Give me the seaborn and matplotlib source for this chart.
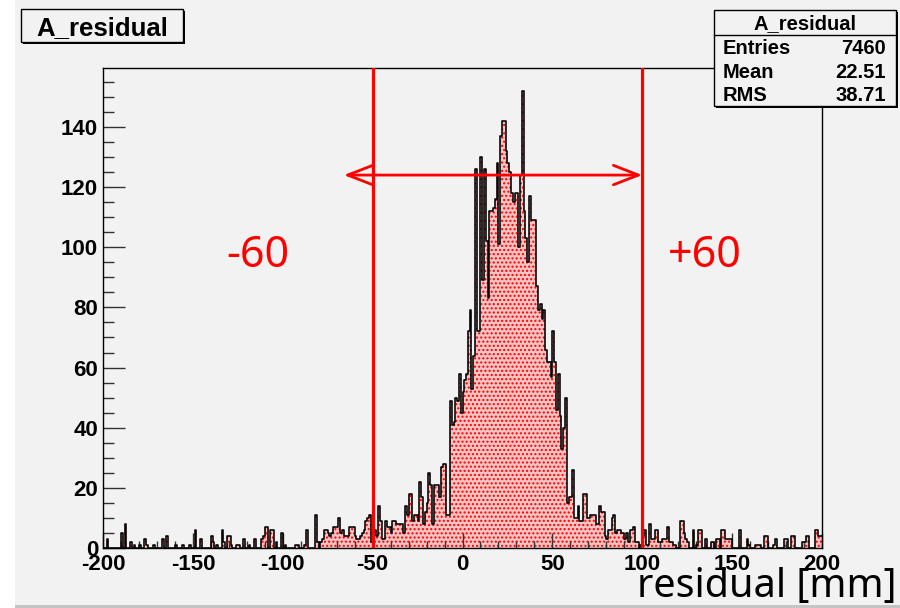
import matplotlib
matplotlib.use("Agg")
import matplotlib.pyplot as plt
import matplotlib.patches as mpatches
import numpy as np
import pandas as pd
import seaborn as sns
from matplotlib.ticker import MultipleLocator

# residual histogram, 1 mm bins from -200 to 200 mm
x_min, x_max, bin_width = -200, 200, 1

counts_left_tail = [  # -200 .. -51
    0, 0, 3, 0, 0, 0, 0, 0, 0, 0,
    5, 0, 8, 0, 0, 2, 0, 1, 0, 0,
    1, 0, 0, 3, 1, 0, 0, 0, 1, 0,
    0, 0, 0, 3, 0, 4, 0, 0, 0, 0,
    1, 0, 0, 0, 1, 0, 0, 0, 1, 0,
    0, 6, 0, 0, 3, 0, 0, 0, 0, 0,
    4, 2, 0, 1, 0, 0, 6, 2, 0, 4,
    4, 1, 0, 0, 1, 1, 0, 0, 3, 0,
    0, 1, 0, 0, 3, 0, 0, 0, 3, 4,
    7, 7, 0, 6, 6, 0, 2, 0, 0, 5,
    0, 1, 0, 0, 0, 0, 0, 1, 1, 0,
    0, 0, 1, 6, 0, 0, 0, 0, 11, 2,
    0, 2, 3, 6, 6, 5, 4, 5, 7, 7,
    7, 10, 5, 6, 4, 4, 4, 7, 7, 7,
    4, 3, 3, 4, 5, 6, 9, 10, 11, 2,
]
counts_core = [  # -50 .. 59
    1, 6, 4, 14, 9, 3, 3, 9, 7, 7,
    5, 9, 9, 8, 8, 8, 8, 5, 14, 11,
    18, 18, 9, 11, 11, 9, 22, 17, 8, 12,
    15, 25, 21, 8, 21, 21, 21, 17, 27, 28,
    28, 11, 11, 49, 41, 42, 50, 49, 58, 45,
    52, 56, 58, 72, 79, 53, 64, 126, 72, 72,
    130, 89, 126, 102, 83, 112, 112, 113, 116, 128,
    101, 137, 142, 142, 132, 128, 125, 118, 115, 118,
    118, 100, 124, 152, 112, 103, 95, 117, 109, 109,
    109, 87, 79, 81, 76, 79, 66, 62, 62, 57,
    72, 62, 46, 58, 44, 33, 40, 50, 15, 17,
]
counts_right_tail = [  # 60 .. 199
    17, 26, 10, 10, 14, 9, 9, 18, 18, 10,
    10, 11, 11, 11, 8, 8, 14, 12, 12, 4,
    3, 6, 6, 10, 11, 5, 6, 6, 5, 5,
    3, 5, 2, 6, 6, 7, 2, 2, 0, 1,
    4, 6, 1, 1, 8, 3, 3, 6, 6, 2,
    2, 3, 3, 3, 7, 2, 2, 1, 1, 0,
    0, 9, 9, 5, 3, 2, 0, 0, 6, 0,
    1, 6, 6, 0, 0, 3, 0, 0, 2, 2,
    0, 3, 3, 0, 6, 6, 3, 3, 3, 3,
    0, 0, 0, 0, 6, 0, 0, 0, 3, 1,
    0, 0, 0, 1, 1, 1, 0, 0, 4, 4,
    0, 0, 0, 1, 3, 0, 0, 0, 0, 3,
    3, 0, 0, 4, 4, 0, 0, 0, 0, 2,
    2, 4, 4, 0, 0, 0, 6, 6, 4, 4,
]

hist_name = "A_residual"
stat_labels = ["Entries", "Mean", "RMS"]
stat_values = ["7460", "22.51", "38.71"]

cut_lines = [-50, 100]
arrow_span = (-66, 100)
arrow_level = 124
cut_labels = ["-60", "+60"]
cut_label_pos = [(-114, 97), (135, 97)]
x_label = "residual [mm]"

counts = np.array(counts_left_tail + counts_core + counts_right_tail)
bin_centers = np.arange(x_min, x_max, bin_width) + bin_width / 2
df = pd.DataFrame({"residual": bin_centers, "count": counts})

W, H = 900, 608
BG = "#f2f2f2"
plt.rcParams["axes.unicode_minus"] = False


def fx(px):
    return px / W


def fy(py):
    return 1 - py / H


fig = plt.figure(figsize=(W / 100, H / 100), dpi=100)
fig.patch.set_facecolor("white")

# canvas background and bottom border
fig.add_artist(mpatches.Rectangle((fx(15), fy(605)), fx(885), 605 / H,
                                  transform=fig.transFigure, facecolor=BG,
                                  edgecolor="none", zorder=-10))
fig.add_artist(mpatches.Rectangle((fx(15), 0), fx(885), 3 / H,
                                  transform=fig.transFigure, facecolor="#c4c4c4",
                                  edgecolor="none", zorder=-10))

ax = fig.add_axes([fx(103), fy(548), fx(719), 480 / H])
ax.set_facecolor(BG)

hist_kws = dict(data=df, x="residual", weights="count", binwidth=bin_width,
                binrange=(x_min, x_max), element="step", ax=ax)
sns.histplot(fill=True, facecolor="#f7c4c4", edgecolor="red", linewidth=0,
             hatch="....", alpha=1, **hist_kws)
sns.histplot(fill=False, color="black", linewidth=1.15, **hist_kws)

ax.set_xlim(x_min, x_max)
ax.set_ylim(0, 159.6)
ax.set_xlabel("")
ax.set_ylabel("")

ax.set_xticks(np.arange(x_min, x_max + 1, 50))
ax.xaxis.set_minor_locator(MultipleLocator(10))
ax.set_yticks(np.arange(0, 141, 20))
ax.yaxis.set_minor_locator(MultipleLocator(5))
ax.tick_params(axis="x", which="major", direction="in", length=10.5, width=1, pad=4, color="#333333")
ax.tick_params(axis="x", which="minor", direction="in", length=5, width=1, color="#333333")
ax.tick_params(axis="y", which="major", direction="in", length=15.5, width=1, pad=3.5, color="#333333")
ax.tick_params(axis="y", which="minor", direction="in", length=8, width=1, color="#333333")
for lab in ax.get_xticklabels() + ax.get_yticklabels():
    lab.set_fontfamily("Liberation Sans")
    lab.set_fontweight("bold")
    lab.set_fontsize(16)
for sp in ax.spines.values():
    sp.set_linewidth(1.0)
    sp.set_color("black")

# cut lines, arrow and labels
for xc in cut_lines:
    ax.axvline(xc, color="red", linewidth=2.3, zorder=5)
ax.annotate("", xy=(arrow_span[0], arrow_level), xytext=(arrow_span[1], arrow_level),
            arrowprops=dict(arrowstyle="<->,head_length=0.9,head_width=0.35",
                            color="red", lw=2.0, mutation_scale=20,
                            shrinkA=0, shrinkB=0), zorder=6)
for lab, (xl, yl) in zip(cut_labels, cut_label_pos):
    ax.text(xl, yl, lab, color="red", fontsize=31, family="Noto Sans",
            ha="center", va="center")

fig.text(fx(637), fy(597), x_label, fontsize=28.5, family="Noto Sans",
         ha="left", va="baseline", color="black")


def shadow_box(x0, y0, x1, y1):
    fig.add_artist(mpatches.Rectangle((fx(x0 + 2), fy(y1 + 2)), fx(x1 - x0), (y1 - y0) / H,
                                      transform=fig.transFigure, facecolor="black",
                                      edgecolor="none", zorder=2))
    fig.add_artist(mpatches.Rectangle((fx(x0), fy(y1)), fx(x1 - x0), (y1 - y0) / H,
                                      transform=fig.transFigure, facecolor=BG,
                                      edgecolor="black", linewidth=1.0, zorder=2.1))


# title box
shadow_box(21, 9, 183, 42)
fig.text(fx(102), fy(35), hist_name, fontsize=18.5, weight="bold",
         family="Liberation Sans", ha="center", va="baseline", zorder=3)

# stats box
shadow_box(714, 10, 896, 106)
fig.add_artist(plt.Line2D([fx(714), fx(896)], [fy(35), fy(35)], transform=fig.transFigure,
                          color="black", linewidth=1.0, zorder=2.2))
fig.text(fx(805), fy(29), hist_name, fontsize=14.5, weight="bold",
         family="Liberation Sans", ha="center", va="baseline", zorder=3)
for i, (lab, val) in enumerate(zip(stat_labels, stat_values)):
    yb = fy(54 + i * 23.5)
    fig.text(fx(723), yb, lab, fontsize=14.5, weight="bold",
             family="Liberation Sans", ha="left", va="baseline", zorder=3)
    fig.text(fx(886), yb, val, fontsize=14.5, weight="bold",
             family="Liberation Sans", ha="right", va="baseline", zorder=3)

fig.savefig("out.png", dpi=100, facecolor=fig.get_facecolor())
